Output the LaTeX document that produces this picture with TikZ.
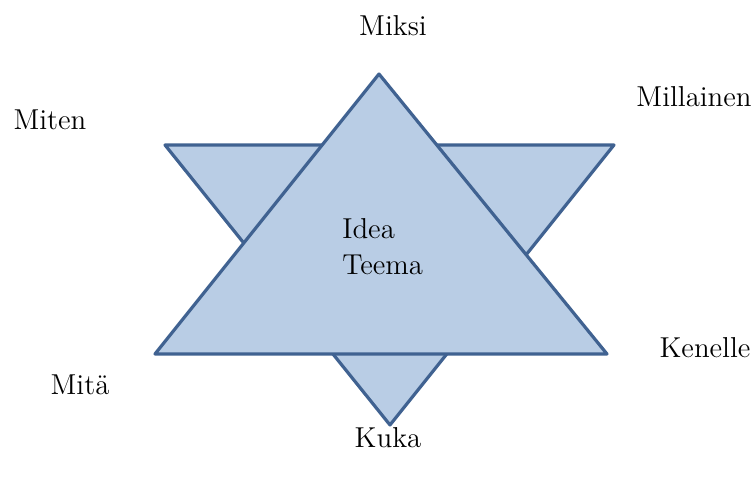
\documentclass[tikz,border=0pt]{standalone}
\usepackage{fontspec}
\usepackage{tikz}
\usetikzlibrary{positioning}

\definecolor{starfill}{RGB}{185,205,229}
\definecolor{starline}{RGB}{64,98,145}

\begin{document}
\begin{tikzpicture}[
    x=0.5pt, y=-0.5pt,
    tri/.style={fill=starfill, draw=starline, line width=1.6pt, line join=round},
    word/.style={font=\Large, anchor=base, inner sep=0pt}
  ]
  \useasboundingbox (0,0) rectangle (752,480);

  % downward triangle (behind)
  \coordinate (dl) at (165,145);
  \coordinate (dr) at (614,145);
  \coordinate (db) at (390,425);
  % upward triangle (front)
  \coordinate (ut) at (379,74);
  \coordinate (ul) at (155,354);
  \coordinate (ur) at (607,354);

  \draw[tri] (dl) -- (dr) -- (db) -- cycle;
  \draw[tri] (ut) -- (ur) -- (ul) -- cycle;

  \node[word, align=left, anchor=base west] (idea) at (342,275) {Idea\\Teema};

  \node[word] (miksi) at (393,36) {Miksi};
  \node[word] (millainen) at (694,107) {Millainen};
  \node[word] (miten) at (50,130) {Miten};
  \node[word] (kenelle) at (705,358) {Kenelle};
  \node[word] (mita) at (80,395) {Mitä};
  \node[word] (kuka) at (388,448) {Kuka};
\end{tikzpicture}
\end{document}
